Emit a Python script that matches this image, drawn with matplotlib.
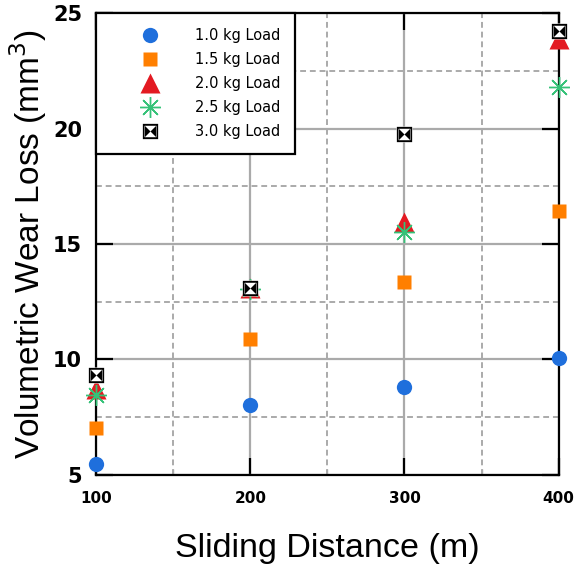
import matplotlib.pyplot as plt
import numpy as np
from matplotlib.path import Path
from matplotlib.legend_handler import HandlerTuple

# sliding distance (m) and wear loss (mm^3) for each load
distance = [100, 200, 300, 400]
load_10 = [5.45, 8.0, 8.8, 10.05]
load_15 = [7.0, 10.9, 13.35, 16.45]
load_20 = [8.7, 13.1, 15.95, 23.9]
load_25 = [8.45, 13.05, 15.5, 21.8]
load_30 = [9.3, 13.1, 19.75, 24.25]
labels = ['1.0 kg Load', '1.5 kg Load', '2.0 kg Load', '2.5 kg Load', '3.0 kg Load']

# bow-tie marker: square ring with two black triangles from the sides
s, h = 1.0, 0.75
verts = [(-s, -s), (s, -s), (s, s), (-s, s), (-s, -s),
         (-h, -h), (-h, h), (h, h), (h, -h), (-h, -h),
         (-h, -h), (-h, h), (0, 0), (-h, -h),
         (h, -h), (0, 0), (h, h), (h, -h)]
codes = ([Path.MOVETO] + [Path.LINETO] * 3 + [Path.CLOSEPOLY]) * 2 + \
        ([Path.MOVETO] + [Path.LINETO] * 2 + [Path.CLOSEPOLY]) * 2
bowtie = Path(verts, codes)

fig = plt.figure(figsize=(5.82, 5.68), dpi=100)
ax = fig.add_axes([0.165, 0.1644, 0.795, 0.812])

p1, = ax.plot(distance, load_10, 'o', color='#1f6fdc', ms=11, mec='none', clip_on=False, zorder=3)
p2, = ax.plot(distance, load_15, 's', color='#ff7f00', ms=10, mec='none', clip_on=False, zorder=3)
p3, = ax.plot(distance, load_20, '^', color='#e31a22', ms=14, mec='none', clip_on=False, zorder=3)
p4, = ax.plot(distance, load_25, marker=(8, 2, 0), ls='none', color='#35c278', ms=15, mew=1.0,
              clip_on=False, zorder=3)
p5a, = ax.plot(distance, load_30, 's', color='white', ms=11, mec='none', clip_on=False, zorder=4)
p5b, = ax.plot(distance, load_30, marker=bowtie, ls='none', color='black', ms=11, mec='none',
               clip_on=False, zorder=4)

ax.set_xlim(100, 400)
ax.set_ylim(5, 25)
ax.set_xticks([100, 200, 300, 400])
ax.set_yticks([5, 10, 15, 20, 25])
ax.set_xticks([150, 250, 350], minor=True)
ax.set_yticks([7.5, 12.5, 17.5, 22.5], minor=True)

ax.grid(True, which='major', color='#aaaaaa', lw=1.6, ls='-')
ax.grid(True, which='minor', color='#aaaaaa', lw=1.4, ls=(0, (3, 2)))
ax.set_axisbelow(True)

ax.tick_params(which='major', direction='in', length=12, width=1.6, color='black',
               top=True, right=True)
ax.tick_params(which='minor', direction='in', length=4, width=1, color='#aaaaaa',
               top=False, right=False, left=False)
ax.tick_params(axis='x', which='major', labelsize=11, pad=12)
ax.tick_params(axis='y', which='major', labelsize=15, pad=10)
for lab in ax.get_xticklabels() + ax.get_yticklabels():
    lab.set_fontweight('bold')

for sp in ax.spines.values():
    sp.set_linewidth(1.6)
    sp.set_color('black')

ax.set_xlabel('Sliding Distance (m)', family='Liberation Sans', fontsize=24.5, labelpad=19)
ax.set_ylabel('Volumetric Wear Loss (mm$^3$)', family='Liberation Sans', fontsize=24, labelpad=3)

leg = ax.legend([p1, p2, p3, p4, (p5a, p5b)], labels, loc='upper left',
                handler_map={tuple: HandlerTuple(ndivide=1)},
                bbox_to_anchor=(0, 1), borderaxespad=0, fontsize=10.5,
                handlelength=5.4, handletextpad=0.4, borderpad=1.0, labelspacing=0.62,
                fancybox=False, framealpha=1, edgecolor='black')
leg.get_frame().set_linewidth(1.6)
leg.set_zorder(5)

fig.savefig('out.png', dpi=100)
